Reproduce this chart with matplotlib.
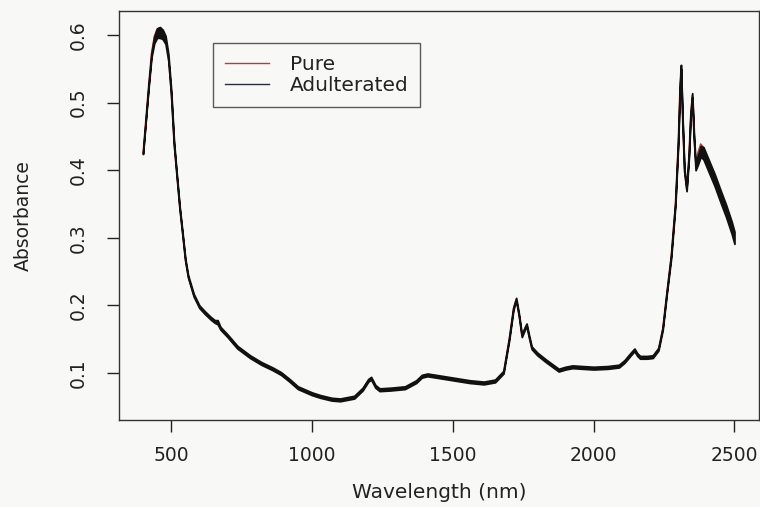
import matplotlib
matplotlib.use("Agg")
import matplotlib.pyplot as plt
import numpy as np

# NIR spectra (nm, absorbance)
wavelength = [
    400, 410, 420, 430, 440, 450, 460, 470, 480, 490,
    500, 510, 520, 530, 540, 550, 560, 580, 600, 620,
    640, 655, 665, 675, 700, 735, 780, 820, 860, 890,
    920, 950, 1000, 1030, 1070, 1100, 1150, 1180, 1200, 1210,
    1225, 1240, 1280, 1330, 1370, 1390, 1410, 1440, 1500, 1560,
    1610, 1650, 1680, 1700, 1715, 1725, 1735, 1745, 1755, 1762,
    1770, 1780, 1800, 1830, 1876, 1900, 1925, 1960, 2000, 2050,
    2090, 2110, 2130, 2145, 2155, 2165, 2190, 2210, 2230, 2245,
    2260, 2275, 2290, 2300, 2306, 2310, 2316, 2322, 2330, 2338,
    2344, 2350, 2356, 2362, 2370, 2380, 2390, 2410, 2430, 2450,
    2470, 2490, 2500,
]
adulterated_mean = [
    0.425, 0.475, 0.525, 0.570, 0.593, 0.603, 0.604, 0.601, 0.593, 0.567,
    0.515, 0.440, 0.392, 0.345, 0.307, 0.268, 0.243, 0.215, 0.198, 0.189,
    0.181, 0.176, 0.175, 0.166, 0.155, 0.138, 0.124, 0.114, 0.106, 0.099,
    0.089, 0.078, 0.069, 0.065, 0.061, 0.060, 0.064, 0.076, 0.089, 0.092,
    0.080, 0.075, 0.076, 0.078, 0.087, 0.095, 0.097, 0.095, 0.091, 0.087,
    0.085, 0.088, 0.101, 0.150, 0.195, 0.209, 0.185, 0.155, 0.165, 0.171,
    0.155, 0.137, 0.128, 0.118, 0.104, 0.107, 0.109, 0.108, 0.107, 0.108,
    0.110, 0.117, 0.127, 0.134, 0.127, 0.123, 0.123, 0.124, 0.135, 0.165,
    0.220, 0.272, 0.350, 0.440, 0.520, 0.553, 0.470, 0.400, 0.372, 0.420,
    0.480, 0.511, 0.450, 0.405, 0.415, 0.428, 0.425, 0.405, 0.385, 0.362,
    0.340, 0.315, 0.300,
]
# half-width of the bundle of adulterated spectra
adulterated_spread = [
    0.001, 0.001, 0.002, 0.003, 0.005, 0.007, 0.008, 0.007, 0.006, 0.005,
    0.004, 0.003, 0.002, 0.002, 0.002, 0.002, 0.002, 0.002, 0.002, 0.002,
    0.002, 0.002, 0.003, 0.002, 0.002, 0.002, 0.002, 0.002, 0.002, 0.002,
    0.002, 0.002, 0.002, 0.002, 0.002, 0.002, 0.002, 0.002, 0.002, 0.002,
    0.002, 0.002, 0.002, 0.002, 0.002, 0.002, 0.002, 0.002, 0.002, 0.002,
    0.002, 0.002, 0.002, 0.002, 0.002, 0.002, 0.002, 0.002, 0.002, 0.002,
    0.002, 0.002, 0.002, 0.002, 0.002, 0.002, 0.002, 0.002, 0.002, 0.002,
    0.002, 0.002, 0.002, 0.002, 0.002, 0.002, 0.002, 0.002, 0.002, 0.002,
    0.002, 0.003, 0.003, 0.003, 0.003, 0.003, 0.003, 0.003, 0.003, 0.003,
    0.003, 0.003, 0.004, 0.005, 0.007, 0.008, 0.009, 0.009, 0.009, 0.009,
    0.009, 0.009, 0.009,
]
pure_abs = [
    0.425, 0.476, 0.527, 0.573, 0.598, 0.609, 0.611, 0.607, 0.598, 0.570,
    0.515, 0.440, 0.392, 0.345, 0.307, 0.268, 0.243, 0.215, 0.198, 0.189,
    0.181, 0.176, 0.177, 0.166, 0.155, 0.138, 0.124, 0.114, 0.106, 0.099,
    0.089, 0.078, 0.069, 0.065, 0.061, 0.060, 0.064, 0.076, 0.089, 0.092,
    0.080, 0.075, 0.076, 0.078, 0.087, 0.095, 0.097, 0.095, 0.091, 0.087,
    0.085, 0.088, 0.101, 0.150, 0.195, 0.209, 0.185, 0.155, 0.165, 0.171,
    0.155, 0.137, 0.128, 0.118, 0.104, 0.107, 0.109, 0.108, 0.107, 0.108,
    0.110, 0.117, 0.127, 0.134, 0.127, 0.123, 0.123, 0.124, 0.135, 0.165,
    0.220, 0.272, 0.350, 0.440, 0.520, 0.553, 0.470, 0.400, 0.372, 0.420,
    0.480, 0.511, 0.452, 0.412, 0.426, 0.439, 0.434, 0.413, 0.392, 0.369,
    0.347, 0.322, 0.307,
]

x_ticks = [500, 1000, 1500, 2000, 2500]
y_ticks = [0.1, 0.2, 0.3, 0.4, 0.5, 0.6]

plt.rcParams["font.family"] = ["DejaVu Sans"]
bg = "#f8f8f6"
ink = "#222222"

fig = plt.figure(figsize=(7.6, 5.07), dpi=100, facecolor=bg)
ax = fig.add_axes([0.157, 0.172, 0.842, 0.806], facecolor=bg)

mean = np.array(adulterated_mean)
spread = np.array(adulterated_spread)

ax.plot(wavelength, pure_abs, color="#c0392b", linewidth=1.0, label="Pure", zorder=2)
ax.fill_between(wavelength, mean - spread, mean + spread, color="#111111",
                linewidth=1.3, edgecolor="#111111", zorder=3)
ax.plot([], [], color="#2b2b3a", linewidth=1.0, label="Adulterated")

ax.set_xlim(316, 2588)
ax.set_ylim(0.0305, 0.6355)
ax.set_xticks(x_ticks)
ax.set_xticklabels([str(v) for v in x_ticks])
ax.set_yticks(y_ticks)
ax.set_yticklabels([f"{v:.1f}" for v in y_ticks], rotation=90, va="center")
ax.tick_params(axis="both", direction="out", length=8.6, width=1.0, colors=ink,
               labelsize=13.5)
ax.tick_params(axis="x", pad=10.5)
ax.tick_params(axis="y", pad=14)
for sp in ax.spines.values():
    sp.set_color("#333333")
    sp.set_linewidth(1.0)

fig.text(0.578, 1 - 492 / 507, "Wavelength (nm)", ha="center", va="center",
         fontsize=14.5, color=ink)
fig.text(23 / 760, 1 - 215.5 / 507, "Absorbance", ha="center", va="center",
         rotation=90, fontsize=13.5, color=ink)

leg = ax.legend(loc="upper left", bbox_to_anchor=(213 / 760, 1 - 43 / 507),
                bbox_transform=fig.transFigure, borderaxespad=0, fancybox=False,
                frameon=True, fontsize=14.5, handlelength=2.2, handletextpad=1.0,
                borderpad=0.6, labelspacing=0.1)
leg.get_frame().set_edgecolor("#333333")
leg.get_frame().set_linewidth(1.0)
leg.get_frame().set_facecolor(bg)
for t in leg.get_texts():
    t.set_color(ink)

fig.savefig("out.png", dpi=100, facecolor=bg)
